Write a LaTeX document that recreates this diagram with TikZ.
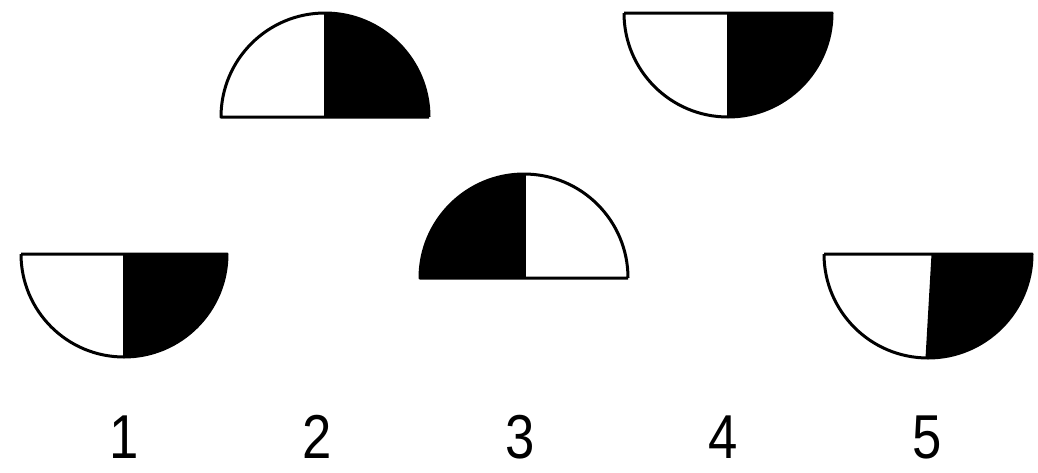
\documentclass[tikz,border=0pt]{standalone}
\usepackage{fontspec}
\setmainfont{Liberation Sans}
\begin{document}
\begin{tikzpicture}[x=1pt,y=-1pt,
  outline/.style={line width=3pt,line join=round},
  dark/.style={fill=black},
  lbl/.style={font=\fontsize{62}{62}\selectfont,inner sep=0pt,xscale=0.85}]
\useasboundingbox[fill=white] (0,0) rectangle (1038,472);
% Shape 1: lower half, left white, right black
\fill[dark] (124,254) -- (227,254) arc[start angle=0,end angle=90,radius=103] -- cycle;
\draw[outline] (21,254) -- (227,254) arc[start angle=0,end angle=180,radius=103];
\draw[outline] (124,254) -- (124,357);
% Shape 2: upper half, left white, right black
\fill[dark] (325,117) -- (429,117) arc[start angle=360,end angle=270,radius=104] -- cycle;
\draw[outline] (429,117) -- (221,117) arc[start angle=180,end angle=360,radius=104];
\draw[outline] (325,117) -- (325,13);
% Shape 3: upper half, left black, right white
\fill[dark] (524,278) -- (420,278) arc[start angle=180,end angle=270,radius=104] -- cycle;
\draw[outline] (628,278) -- (420,278) arc[start angle=180,end angle=360,radius=104];
\draw[outline] (524,278) -- (524,174);
% Shape 4: lower half, left white, right black
\fill[dark] (728,13) -- (832,13) arc[start angle=0,end angle=90,radius=104] -- cycle;
\draw[outline] (624,13) -- (832,13) arc[start angle=0,end angle=180,radius=104];
\draw[outline] (728,13) -- (728,117);
% Shape 5: lower half, slanted divider
\fill[dark] (933,254) -- (1032,254) arc[start angle=0,end angle=90.6,radius=104] -- cycle;
\draw[outline] (824,254) -- (1032,254) arc[start angle=0,end angle=180,radius=104];
\draw[outline] (933,254) -- (927,358);
% labels
\node[lbl] (n1) at (124,437) {1};
\node[lbl] (n2) at (317,437) {2};
\node[lbl] (n3) at (520,437) {3};
\node[lbl] (n4) at (723,437) {4};
\node[lbl] (n5) at (927,437) {5};
\end{tikzpicture}
\end{document}
